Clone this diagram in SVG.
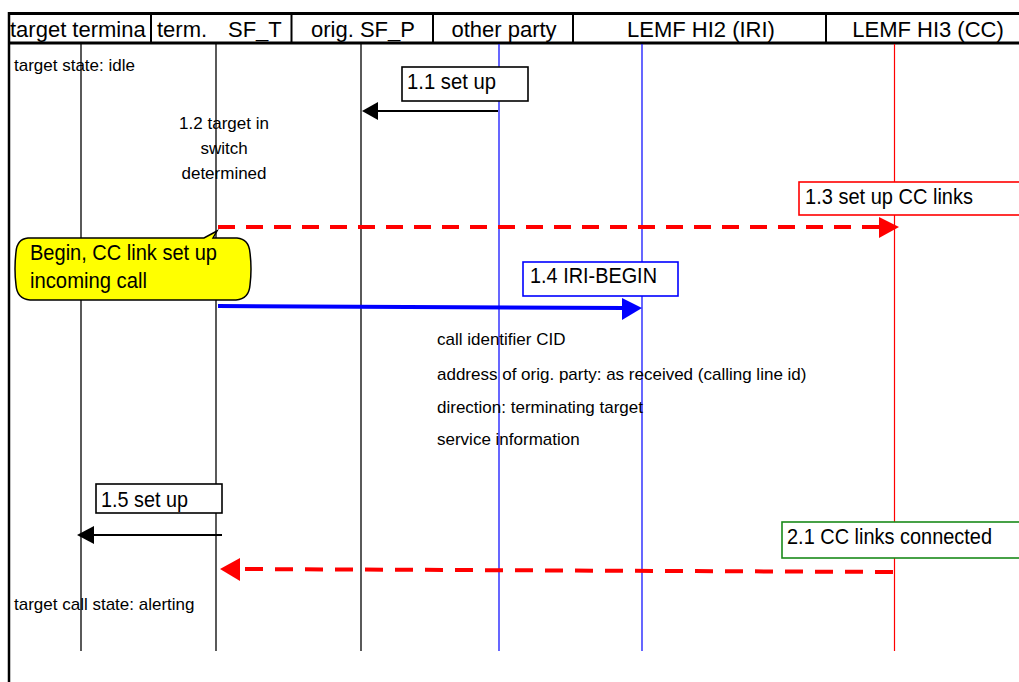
<svg xmlns="http://www.w3.org/2000/svg" width="1019" height="682" viewBox="0 0 1019 682">
<defs>
<style>
text{font-family:"Liberation Sans",Arial,sans-serif;fill:#000}
.hd{font-size:22px}
.lb{font-size:21.5px}
.sm{font-size:17px}
.frame{stroke:#000;fill:none}
.life{stroke:#000;stroke-width:1.3;fill:none}
.box{fill:#fff;stroke-width:1.6}
</style>
</defs>
<rect x="0" y="0" width="1019" height="682" fill="#fff"/>
<g id="header">
<line class="frame" x1="9" y1="13.5" x2="1019" y2="13.5" stroke-width="3"/>
<line class="frame" x1="9" y1="43" x2="1019" y2="43" stroke-width="3"/>
<line class="frame" x1="9" y1="12" x2="9" y2="682" stroke-width="2.5"/>
<line class="frame" x1="151" y1="13" x2="151" y2="44" stroke-width="2"/>
<line class="frame" x1="291.5" y1="13" x2="291.5" y2="44" stroke-width="2"/>
<line class="frame" x1="433" y1="13" x2="433" y2="44" stroke-width="2"/>
<line class="frame" x1="573" y1="13" x2="573" y2="44" stroke-width="2"/>
<line class="frame" x1="826" y1="13" x2="826" y2="44" stroke-width="2"/>
</g>
<g id="target-terminal">
<text class="hd" x="10" y="36.8">target termina</text>
<line class="life" x1="81" y1="44" x2="81" y2="651"/>
</g>
<g id="term-sf-t">
<text class="hd" y="36.8"><tspan x="157">term.</tspan><tspan x="228">SF_T</tspan></text>
<line class="life" x1="216" y1="44" x2="216" y2="651"/>
</g>
<g id="orig-sf-p">
<text class="hd" x="363" y="36.8" text-anchor="middle">orig. SF_P</text>
<line class="life" x1="361" y1="44" x2="361" y2="651"/>
</g>
<g id="other-party">
<text class="hd" x="504" y="36.8" text-anchor="middle">other party</text>
<line x1="499" y1="44" x2="499" y2="651" stroke="#0000ff" stroke-width="1.2"/>
</g>
<g id="lemf-hi2">
<text class="hd" x="701" y="36.8" text-anchor="middle">LEMF HI2 (IRI)</text>
<line x1="642" y1="44" x2="642" y2="651" stroke="#0000ff" stroke-width="1.2"/>
</g>
<g id="lemf-hi3">
<text class="hd" x="928" y="36.8" text-anchor="middle">LEMF HI3 (CC)</text>
<line x1="894.5" y1="44" x2="894.5" y2="651" stroke="#ff0000" stroke-width="1.2"/>
</g>
<g id="notes">
<text class="sm" x="14" y="71">target state: idle</text>
<text class="sm" text-anchor="middle"><tspan x="224" y="129">1.2 target in</tspan><tspan x="224" y="154">switch</tspan><tspan x="224" y="179">determined</tspan></text>
<text class="sm" x="437" y="345">call identifier CID</text>
<text class="sm" x="437" y="380">address of orig. party: as received (calling line id)</text>
<text class="sm" x="437" y="413">direction: terminating target</text>
<text class="sm" x="437" y="445">service information</text>
<text class="sm" x="14" y="610">target call state: alerting</text>
</g>
<g id="connectors">
<line x1="498" y1="111" x2="376" y2="111" stroke="#000" stroke-width="2"/>
<polygon points="362,111 378,102 378,120" fill="#000"/>
<line x1="218" y1="227" x2="880" y2="227" stroke="#ff0000" stroke-width="4" stroke-dasharray="17,11"/>
<polygon points="899,227 879,217 879,238" fill="#ff0000"/>
<line x1="218" y1="306" x2="624" y2="308" stroke="#0000ff" stroke-width="4"/>
<polygon points="642,308 622,298 622,320" fill="#0000ff"/>
<line x1="222" y1="535" x2="92" y2="535" stroke="#000" stroke-width="2"/>
<polygon points="77,535 94,526 94,544" fill="#000"/>
<line x1="893" y1="572" x2="238" y2="569" stroke="#ff0000" stroke-width="4" stroke-dasharray="18,12"/>
<polygon points="220,569 240,558 240,581" fill="#ff0000"/>
</g>
<g id="label-1-1">
<rect class="box" x="402" y="67" width="126" height="34" stroke="#000"/>
<text class="lb" x="407" y="89" textLength="89" lengthAdjust="spacingAndGlyphs">1.1 set up</text>
</g>
<g id="label-1-3">
<rect class="box" x="799" y="182" width="240" height="33" stroke="#ff0000"/>
<text class="lb" x="805" y="204" textLength="168" lengthAdjust="spacingAndGlyphs">1.3 set up CC links</text>
</g>
<g id="callout">
<path d="M28,238 L204,238 L217,231 L213,238 L237,238 Q249,239 250,253 Q252,269 250,285 Q249,299 236,300 L30,300 Q17,299 16,285 Q14,269 16,252 Q17,239 28,238 Z" fill="#ffff00" stroke="#000" stroke-width="1.5"/>
<text class="lb" x="30" y="260" textLength="187" lengthAdjust="spacingAndGlyphs">Begin, CC link set up</text>
<text class="lb" x="30" y="288" textLength="117" lengthAdjust="spacingAndGlyphs">incoming call</text>
</g>
<g id="label-1-4">
<rect class="box" x="523" y="262" width="155" height="34" stroke="#0000ff"/>
<text class="lb" x="530" y="283" textLength="127" lengthAdjust="spacingAndGlyphs">1.4 IRI-BEGIN</text>
</g>
<g id="label-1-5">
<rect class="box" x="96" y="484" width="126" height="29" stroke="#000"/>
<text class="lb" x="101" y="507" textLength="87" lengthAdjust="spacingAndGlyphs">1.5 set up</text>
</g>
<g id="label-2-1">
<rect class="box" x="782" y="522" width="260" height="36" stroke="#1a8a1a"/>
<text class="lb" x="787" y="544" textLength="205" lengthAdjust="spacingAndGlyphs">2.1 CC links connected</text>
</g>
</svg>
